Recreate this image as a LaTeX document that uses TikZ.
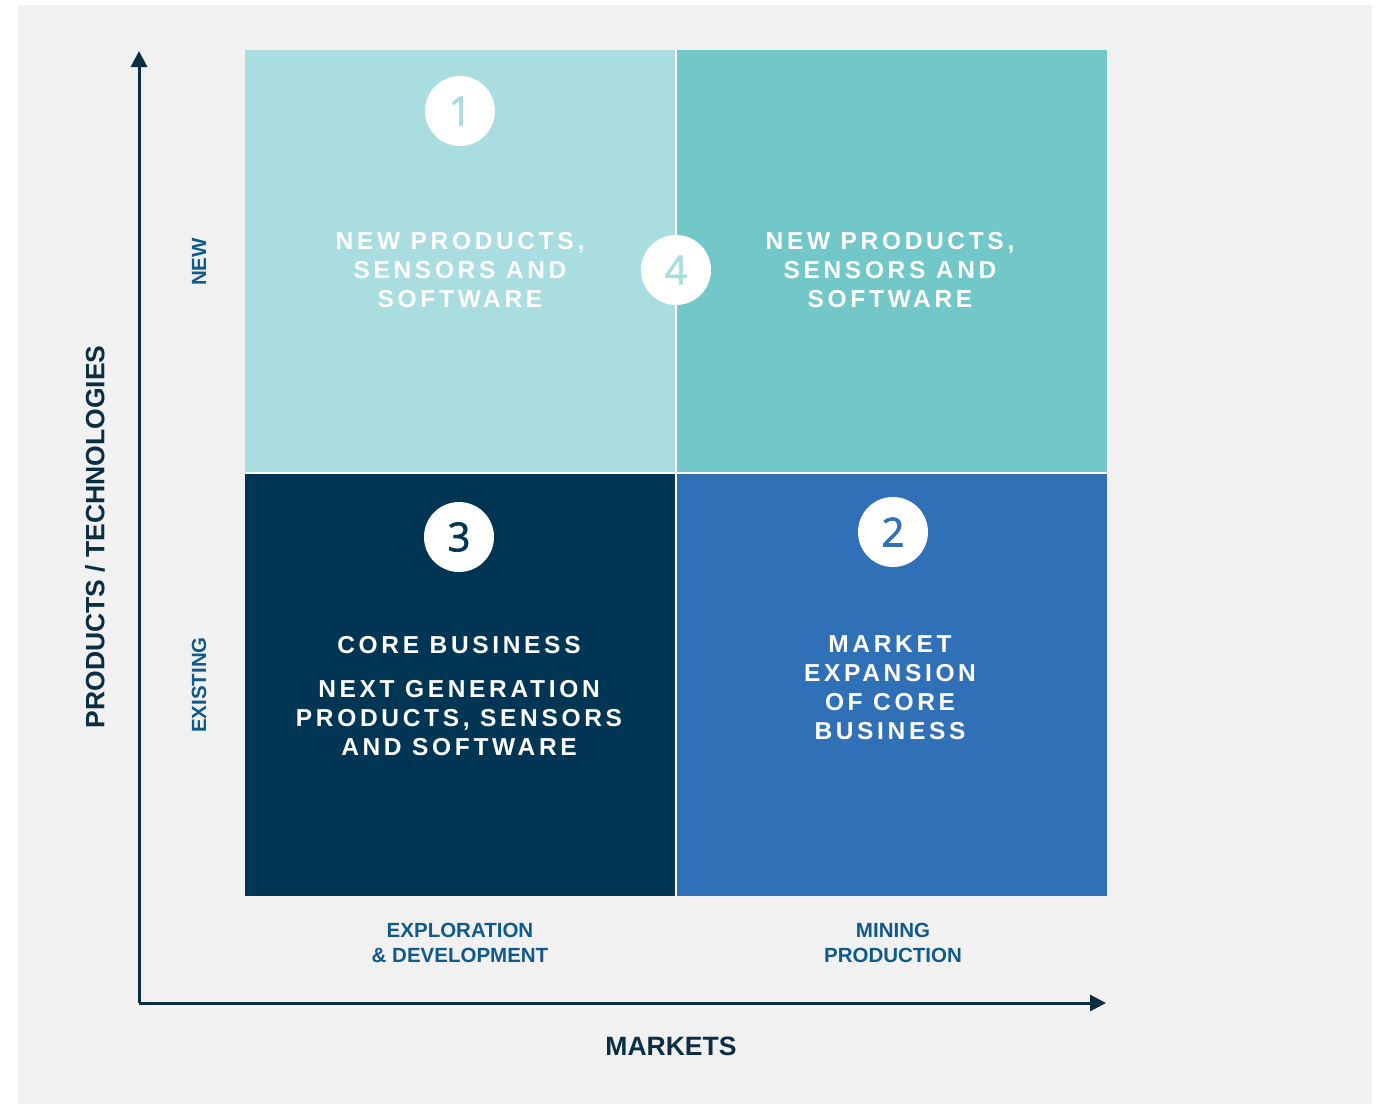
\documentclass[tikz,border=0pt]{standalone}
\usepackage{fontspec}
\setmainfont{Liberation Sans}
\newfontfamily\qfont[LetterSpace=15]{Liberation Sans}
\newfontfamily\digfont[FakeBold=1.6]{Open Sans}
\usetikzlibrary{arrows.meta}
\definecolor{bggray}{HTML}{F1F1F1}
\definecolor{qlight}{HTML}{A9DDE0}
\definecolor{qteal}{HTML}{72C7C9}
\definecolor{qnavy}{HTML}{003554}
\definecolor{qblue}{HTML}{3070B7}
\definecolor{axisdark}{HTML}{0B2E42}
\definecolor{lblblue}{HTML}{0F5A8A}
\begin{document}
\begin{tikzpicture}[x=1pt,y=-1pt,
  qtext/.style={text=white,align=center,inner sep=0pt,font=\qfont\bfseries\fontsize{24.5}{29}\selectfont},
  numcirc/.style={circle,fill=white,minimum size=70pt,inner sep=0pt,font=\digfont\fontsize{40}{40}\selectfont},
  axislbl/.style={text=axisdark,font=\bfseries\fontsize{26.5}{30}\selectfont,inner sep=0pt},
  catlbl/.style={text=lblblue,align=center,inner sep=0pt,font=\bfseries\fontsize{20.5}{25}\selectfont},
  axisarrow/.style={draw=axisdark,line width=3pt,-{Triangle[length=16pt,width=16pt]}}
]
\useasboundingbox (0,0) rectangle (1377,1104);
\fill[white] (0,0) rectangle (1377,1104);
\fill[bggray] (18,5) rectangle (1372,1104);
% quadrants
\fill[white] (245,50) rectangle (1107,896);
\fill[qlight] (245,50) rectangle (675,472);
\fill[qteal] (677,50) rectangle (1107,472);
\fill[qnavy] (245,474) rectangle (675,896);
\fill[qblue] (677,474) rectangle (1107,896);
% quadrant texts
\node[qtext] (tl) at (460,270) {NEW PRODUCTS,\\SENSORS AND\\SOFTWARE};
\node[qtext] (tr) at (890,270) {NEW PRODUCTS,\\SENSORS AND\\SOFTWARE};
\node[qtext] (blA) at (459,645) {CORE BUSINESS};
\node[qtext] (blB) at (459,718) {NEXT GENERATION\\PRODUCTS, SENSORS\\AND SOFTWARE};
\node[qtext] (br) at (890,688) {MARKET\\EXPANSION\\OF CORE\\BUSINESS};
% number circles
\node[numcirc,text=qlight] (c1) at (460,111) {1};
\node[numcirc,text=qlight] (c4) at (676,270) {4};
\node[numcirc,text=qnavy] (c3) at (459,537) {3};
\node[numcirc,text=qblue] (c2) at (893,532) {2};
% axes
\coordinate (o) at (139,1003);
\coordinate (ytip) at (139,51);
\coordinate (xtip) at (1106,1003);
\draw[axisarrow] (o) -- (ytip);
\draw[axisarrow] (o) -- (xtip);
\node[axislbl,rotate=90] (ylab) at (95,537) {PRODUCTS / TECHNOLOGIES};
\node[axislbl] (xlab) at (671,1046) {MARKETS};
\node[catlbl,rotate=90] (new) at (199,262) {NEW};
\node[catlbl,rotate=90] (exist) at (199,685) {EXISTING};
\node[catlbl] (expl) at (460,943) {EXPLORATION\\\& DEVELOPMENT};
\node[catlbl] (mine) at (893,943) {MINING\\PRODUCTION};
\end{tikzpicture}
\end{document}
